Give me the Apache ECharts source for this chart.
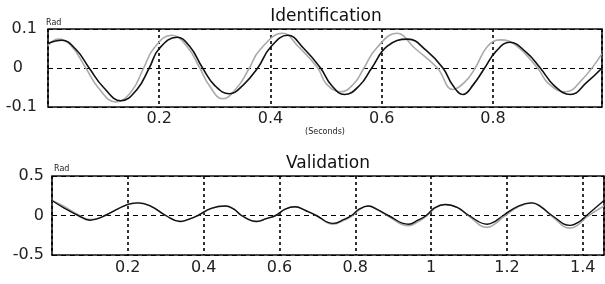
<!DOCTYPE html>
<html>
<head>
<meta charset="utf-8">
<script src="https://cdn.jsdelivr.net/npm/echarts@6/dist/echarts.min.js"></script>
<style>
	html, body { margin: 0; padding: 0; background: #fff; }
	#chart { width: 605px; height: 284px; }
</style>
</head>
<body>
<div id="chart"></div>
<script>
// Identification - measured (gray) and model (black)
var idTime = [ 0, 0.025, 0.05, 0.074, 0.10, 0.131, 0.16, 0.182, 0.20, 0.232, 0.255, 0.278, 0.30, 0.326, 0.35, 0.377, 0.40, 0.431, 0.46, 0.49, 0.51, 0.533, 0.56, 0.582, 0.61, 0.647, 0.68, 0.71, 0.728, 0.746, 0.765, 0.785, 0.805, 0.83, 0.86, 0.885, 0.91, 0.939, 0.97, 0.996 ];
var idModel = [ 0.063, 0.071, 0.048, 0, -0.05, -0.084, -0.055, 0, 0.05, 0.079, 0.055, 0, -0.045, -0.066, -0.045, 0, 0.053, 0.084, 0.05, 0, -0.045, -0.068, -0.045, 0, 0.056, 0.074, 0.045, 0, -0.045, -0.068, -0.042, 0, 0.042, 0.066, 0.04, 0, -0.045, -0.068, -0.035, 0 ];
var idMeasTime = [ 0, 0.018, 0.04, 0.068, 0.09, 0.122, 0.15, 0.172, 0.19, 0.222, 0.25, 0.273, 0.29, 0.314, 0.34, 0.362, 0.38, 0.422, 0.45, 0.485, 0.50, 0.526, 0.55, 0.568, 0.59, 0.627, 0.66, 0.70, 0.728, 0.75, 0.768, 0.79, 0.813, 0.84, 0.88, 0.90, 0.930, 0.96, 0.996 ];
var idMeas = [ 0.058, 0.074, 0.06, 0, -0.05, -0.087, -0.06, 0, 0.05, 0.084, 0.055, 0, -0.045, -0.079, -0.05, 0, 0.045, 0.089, 0.055, 0, -0.04, -0.061, -0.04, 0, 0.05, 0.089, 0.05, 0, -0.055, -0.035, 0, 0.055, 0.072, 0.06, 0, -0.04, -0.061, -0.03, 0.037 ];

// Validation
var valTime = [ 0, 0.03, 0.069, 0.1, 0.12, 0.14, 0.2, 0.227, 0.26, 0.3, 0.338, 0.36, 0.385, 0.42, 0.457, 0.48, 0.5, 0.54, 0.565, 0.59, 0.615, 0.641, 0.67, 0.697, 0.741, 0.77, 0.79, 0.81, 0.834, 0.86, 0.887, 0.94, 0.965, 0.987, 1.01, 1.037, 1.07, 1.10, 1.148, 1.17, 1.19, 1.23, 1.266, 1.29, 1.319, 1.367, 1.39, 1.41, 1.456 ];
var valModel = [ 0.19, 0.10, 0, -0.06, -0.04, 0, 0.14, 0.16, 0.12, 0, -0.075, -0.05, 0, 0.09, 0.12, 0.08, 0, -0.075, -0.04, 0, 0.08, 0.11, 0.06, 0, -0.1, -0.05, 0, 0.08, 0.12, 0.07, 0, -0.11, -0.06, 0, 0.1, 0.14, 0.1, 0, -0.11, -0.07, 0, 0.12, 0.16, 0.11, 0, -0.125, -0.08, 0, 0.19 ];
var valMeas = [ 0.19, 0.12, 0.01, -0.05, -0.04, 0, 0.14, 0.16, 0.12, 0, -0.075, -0.05, 0, 0.09, 0.12, 0.08, 0, -0.075, -0.04, 0, 0.08, 0.11, 0.06, 0, -0.11, -0.06, -0.01, 0.07, 0.12, 0.07, -0.01, -0.13, -0.08, -0.01, 0.09, 0.14, 0.1, -0.01, -0.15, -0.1, -0.02, 0.11, 0.16, 0.11, -0.01, -0.16, -0.11, -0.02, 0.12 ];

function pairs(xs, ys) {
	var out = [];
	for (var i = 0; i < xs.length; i++) {
		out.push([ xs[i], ys[i] ]);
	}
	return out;
}

var font = '"DejaVu Sans", Arial, sans-serif';
var vDash = { color : '#000', width : 1.6, type : [ 3, 3 ] };
var hDash = { color : '#000', width : 1.2, type : [ 5, 4 ] };

function lineSeries(idx, data, color, width) {
	return {
		type : 'line',
		xAxisIndex : idx,
		yAxisIndex : idx,
		data : data,
		smooth : 0.45,
		showSymbol : false,
		silent : true,
		lineStyle : { color : color, width : width }
	};
}

var chart = echarts.init(document.getElementById('chart'));
chart.setOption({
	animation : false,
	textStyle : { fontFamily : font },
	title : [ {
		text : 'Identification',
		left : 321, top : 3, textAlign : 'center',
		textStyle : { fontSize : 17, fontWeight : 'normal', color : '#111', fontFamily : font }
	}, {
		text : 'Validation',
		left : 323, top : 150, textAlign : 'center',
		textStyle : { fontSize : 17, fontWeight : 'normal', color : '#111', fontFamily : font }
	} ],
	grid : [ {
		left : 48, right : 3, top : 29, bottom : 177,
		show : true, borderColor : '#111', borderWidth : 1.6, backgroundColor : '#fff'
	}, {
		left : 52, right : 1, top : 176, bottom : 29,
		show : true, borderColor : '#111', borderWidth : 1.6, backgroundColor : '#fff'
	} ],
	xAxis : [ {
		gridIndex : 0, type : 'value', min : 0, max : 0.996, interval : 0.2,
		axisLine : { show : false }, axisTick : { show : false },
		axisLabel : { showMinLabel : false, showMaxLabel : false, margin : 4, fontSize : 16, color : '#222',
			formatter : function(v) { return v.toFixed(1); } },
		splitLine : { show : true, lineStyle : vDash },
		name : '(Seconds)', nameLocation : 'middle', nameGap : 20,
		nameTextStyle : { fontSize : 8, color : '#222' }
	}, {
		gridIndex : 1, type : 'value', min : 0, max : 1.456, interval : 0.2,
		axisLine : { show : false }, axisTick : { show : false },
		axisLabel : { showMinLabel : false, showMaxLabel : false, margin : 5, fontSize : 16, color : '#222',
			formatter : function(v) { return v === 1 ? '1' : v.toFixed(1); } },
		splitLine : { show : true, lineStyle : vDash }
	} ],
	yAxis : [ {
		gridIndex : 0, type : 'value', min : -0.1, max : 0.1, interval : 0.1,
		axisLine : { show : false }, axisTick : { show : false },
		axisLabel : { margin : 11, fontSize : 16, color : '#222',
			formatter : function(v) { return Math.abs(v) < 1e-9 ? '{z|0}' : v.toFixed(1); },
			rich : { z : { fontSize : 16, color : '#222', padding : [ 0, 14, 0, 0 ] } } },
		splitLine : { show : true, lineStyle : hDash },
		name : 'Rad', nameLocation : 'end', nameGap : 2,
		nameTextStyle : { fontSize : 8, color : '#222', align : 'left', padding : [ 0, 0, 0, -2 ] }
	}, {
		gridIndex : 1, type : 'value', min : -0.5, max : 0.5, interval : 0.5,
		axisLine : { show : false }, axisTick : { show : false },
		axisLabel : { margin : 8, fontSize : 16, color : '#222',
			formatter : function(v) { return Math.abs(v) < 1e-9 ? '0' : v.toFixed(1); } },
		splitLine : { show : true, lineStyle : hDash },
		name : 'Rad', nameLocation : 'end', nameGap : 3,
		nameTextStyle : { fontSize : 8, color : '#222', align : 'left', padding : [ 0, 0, 0, 2 ] }
	} ],
	series : [
		lineSeries(0, pairs(idMeasTime, idMeas), '#aaaaaa', 1.6),
		lineSeries(0, pairs(idTime, idModel), '#111111', 1.6),
		lineSeries(1, pairs(valTime, valMeas), '#aaaaaa', 1.6),
		lineSeries(1, pairs(valTime, valModel), '#111111', 1.4)
	]
});
</script>
</body>
</html>
